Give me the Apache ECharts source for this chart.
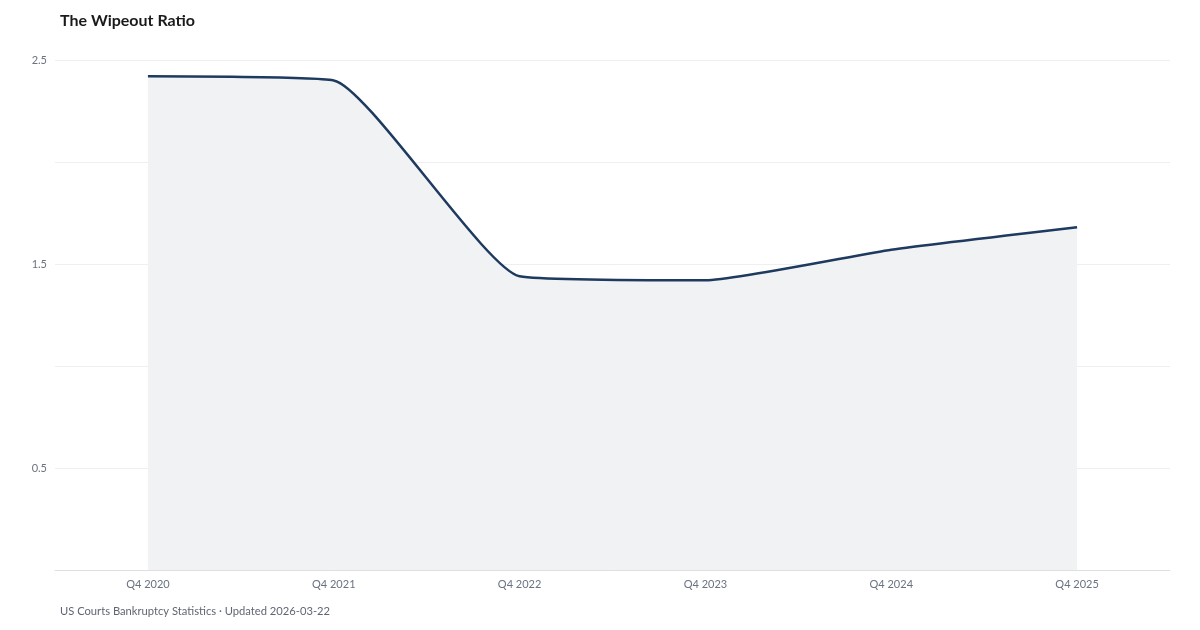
<!DOCTYPE html>
<html>
<head>
<meta charset="utf-8">
<script src="https://cdn.jsdelivr.net/npm/echarts@6/dist/echarts.min.js"></script>
<style>
html,body{margin:0;padding:0;background:#fff;}
#chart{width:1200px;height:630px;}
</style>
</head>
<body>
<div id="chart"></div>
<script>
const categories = ['Q4 2020', 'Q4 2021', 'Q4 2022', 'Q4 2023', 'Q4 2024', 'Q4 2025'];
const ratioValues = [2.42, 2.40, 1.44, 1.42, 1.57, 1.68];
const yLabeled = [0.5, 1.5, 2.5];

const chart = echarts.init(document.getElementById('chart'), null, {renderer: 'canvas'});
const font = 'Lato, "Noto Sans", sans-serif';
chart.setOption({
  backgroundColor: '#ffffff',
  animation: false,
  textStyle: {fontFamily: font},
  title: [{
    text: 'The Wipeout Ratio',
    left: 55, top: 8,
    textStyle: {fontFamily: font, fontSize: 16, fontWeight: 'bold', color: '#1a1a1a'}
  }, {
    text: 'US Courts Bankruptcy Statistics · Updated 2026-03-22',
    left: 55, top: 601,
    textStyle: {fontFamily: font, fontSize: 11.2, fontWeight: 'normal', color: '#5f6673'}
  }],
  grid: {left: 55, right: 30, top: 60, bottom: 60, containLabel: false},
  xAxis: {
    type: 'category',
    data: categories,
    boundaryGap: true,
    axisLine: {show: true, lineStyle: {color: '#dddfe3', width: 1}},
    axisTick: {show: false},
    axisLabel: {color: '#6b7280', fontSize: 11, fontFamily: font, margin: 9},
    splitLine: {show: false}
  },
  yAxis: {
    type: 'value',
    min: 0, max: 2.5, interval: 0.5,
    axisLine: {show: false},
    axisTick: {show: false},
    axisLabel: {
      color: '#6b7280', fontSize: 11, fontFamily: font, margin: 8,
      formatter: v => yLabeled.some(t => Math.abs(t - v) < 1e-9) ? String(v) : ''
    },
    splitLine: {show: true, lineStyle: {color: '#eeeff1', width: 1}}
  },
  series: [{
    type: 'line',
    data: ratioValues,
    smooth: 0.15,
    symbol: 'none',
    lineStyle: {color: '#1e3a5f', width: 2.5},
    areaStyle: {color: '#f1f2f4', opacity: 1}
  }]
});
</script>
</body>
</html>
